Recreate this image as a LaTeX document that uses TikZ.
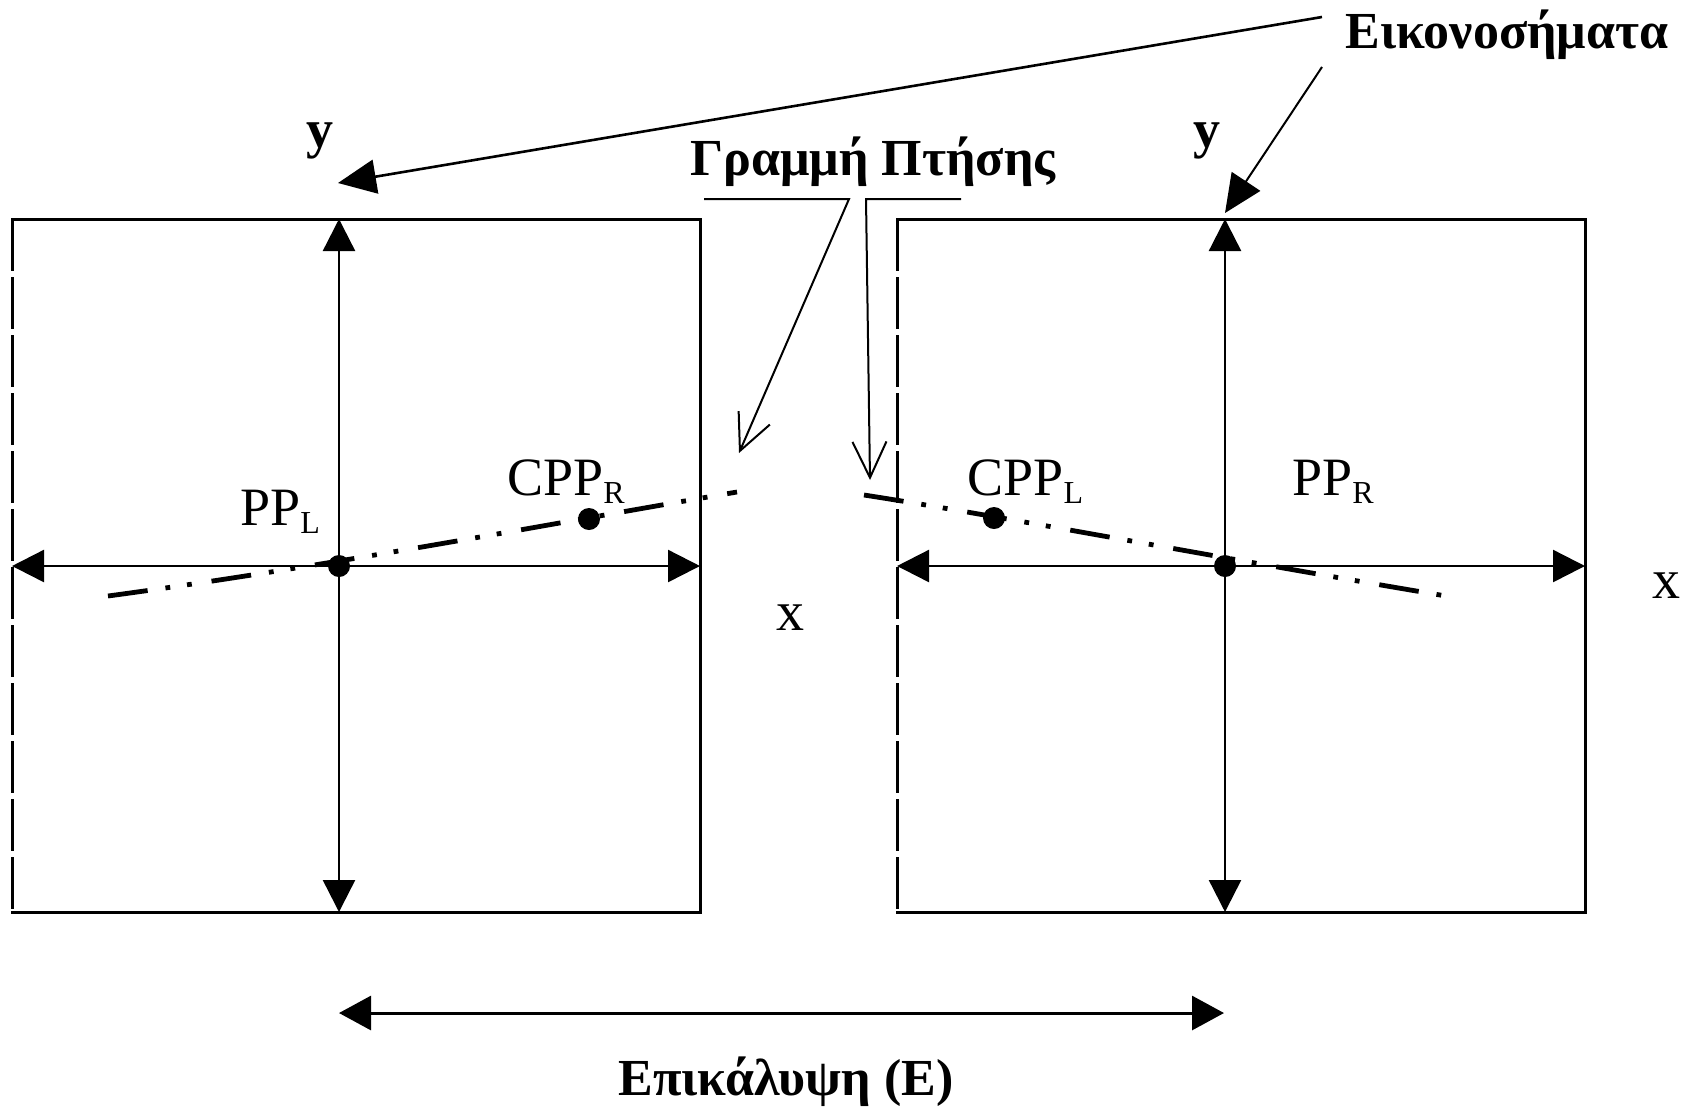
\documentclass[tikz,border=0pt]{standalone}
\usepackage{fontspec}
\setmainfont{Liberation Serif}
\usetikzlibrary{arrows.meta}

% lowered small subscript for point labels
\newcommand\lowsub[1]{\raisebox{-4pt}{\fontsize{16}{16}\selectfont #1}}

\begin{document}
\begin{tikzpicture}[x=0.5pt,y=-0.5pt,
  frame/.style={line width=1.5pt, line cap=rect},
  cutedge/.style={line width=1.5pt, dash pattern=on 26pt off 3pt},
  tri/.tip={Triangle[length=16pt,width=16pt]},
  axis/.style={line width=1.2pt, tri-tri},
  flight/.style={line width=2.4pt, dash pattern=on 20pt off 9pt on 2.4pt off 8.5pt on 2.4pt off 10pt},
  ptdot/.style={circle, fill, inner sep=0pt, minimum size=11pt},
  lab/.style={inner sep=0pt, font=\fontsize{27}{30}\selectfont},
  blab/.style={inner sep=0pt, font=\fontsize{26}{29}\selectfont\bfseries},
  ylab/.style={inner sep=0pt, font=\fontsize{27}{30}\selectfont\bfseries},
  xlab/.style={inner sep=0pt, font=\fontsize{28}{30}\selectfont},
  leader/.style={line width=1pt},
  barb/.style={leader, -{Straight Barb[length=18pt,width=17pt,line width=1pt]}},
  pointer/.style={leader, -{Triangle[length=19pt,width=17pt]}}
]
\useasboundingbox (0,0) rectangle (1700,1110);

% --- left image frame ---
\coordinate (L-tl) at (12,219);
\coordinate (L-tr) at (700,219);
\coordinate (L-br) at (700,912);
\coordinate (L-bl) at (12,912);
\draw[frame] (L-bl) -- (L-br) -- (L-tr) -- (L-tl);
\draw[cutedge] (L-tl) -- (L-bl);

% --- right image frame ---
\coordinate (R-tl) at (897,219);
\coordinate (R-tr) at (1585,219);
\coordinate (R-br) at (1585,912);
\coordinate (R-bl) at (897,912);
\draw[frame] (R-bl) -- (R-br) -- (R-tr) -- (R-tl);
\draw[cutedge] (R-tl) -- (R-bl);

% --- image axes ---
\coordinate (L-xa) at (12,566);   \coordinate (L-xb) at (700,566);
\coordinate (L-ya) at (339,219);  \coordinate (L-yb) at (339,912);
\coordinate (R-xa) at (897,566);  \coordinate (R-xb) at (1585,566);
\coordinate (R-ya) at (1225,219); \coordinate (R-yb) at (1225,912);
\draw[axis] (L-xa) -- (L-xb);
\draw[axis] (L-yb) -- (L-ya);
\draw[axis] (R-xa) -- (R-xb);
\draw[axis] (R-yb) -- (R-ya);

% --- flight line through the principal points ---
\coordinate (fl-a) at (108,596);
\coordinate (fl-b) at (737,492);
\coordinate (fl-c) at (864,495);
\coordinate (fl-d) at (1452,597);
\draw[flight] (fl-a) .. controls (330,566) and (560,522) .. (fl-b);
\draw[flight] (fl-c) .. controls (1000,516) and (1230,560) .. (fl-d);

% --- principal and conjugate principal points ---
\node[ptdot] (ppl) at (339,566) {};
\node[ptdot] (cppr) at (589,519) {};
\node[ptdot] (cppl) at (994,518) {};
\node[ptdot] (ppr) at (1225,566) {};

\node[lab, anchor=base west] (ppl-t) at (240,525) {PP\lowsub{L}};
\node[lab, anchor=base west] (cppr-t) at (507,495) {CPP\lowsub{R}};
\node[lab, anchor=base west] (cppl-t) at (967,495) {CPP\lowsub{L}};
\node[lab, anchor=base west] (ppr-t) at (1292,495) {PP\lowsub{R}};

% --- axis letters ---
\node[ylab, anchor=base] (yl) at (320,147) {y};
\node[ylab, anchor=base] (yr) at (1207,147) {y};
\node[xlab, anchor=base] (xl) at (790,630) {x};
\node[xlab, anchor=base] (xr) at (1666,598) {x};

% --- image callout ---
\node[blab, anchor=base] (eik) at (1507,48) {Εικονοσήματα};
\coordinate (eik-a) at (1322,17);
\coordinate (eik-b) at (1322,67);
\coordinate (eik-ta) at (338,183);
\coordinate (eik-tb) at (1225,213);
\draw[pointer, line width=1.3pt] (eik-a) -- (eik-ta);
\draw[pointer] (eik-b) -- (eik-tb);

% --- flight line callout ---
\node[blab, anchor=base] (fline) at (873,175) {Γραμμή Πτήσης};
\coordinate (fl-l0) at (704,199);
\coordinate (fl-l1) at (849,199);
\coordinate (fl-lt) at (739,453);
\coordinate (fl-r0) at (961,199);
\coordinate (fl-r1) at (866,199);
\coordinate (fl-rt) at (870,480);
\draw[barb] (fl-l0) -- (fl-l1) -- (fl-lt);
\draw[barb] (fl-r0) -- (fl-r1) -- (fl-rt);

% --- overlap dimension ---
\coordinate (ov-a) at (339,1013);
\coordinate (ov-b) at (1224,1013);
\draw[line width=1.5pt, {Triangle[length=16pt,width=17pt]}-{Triangle[length=16pt,width=17pt]}] (ov-a) -- (ov-b);
\node[blab, anchor=base] (ovl) at (786,1095) {Επικάλυψη (Ε)};
\end{tikzpicture}
\end{document}
